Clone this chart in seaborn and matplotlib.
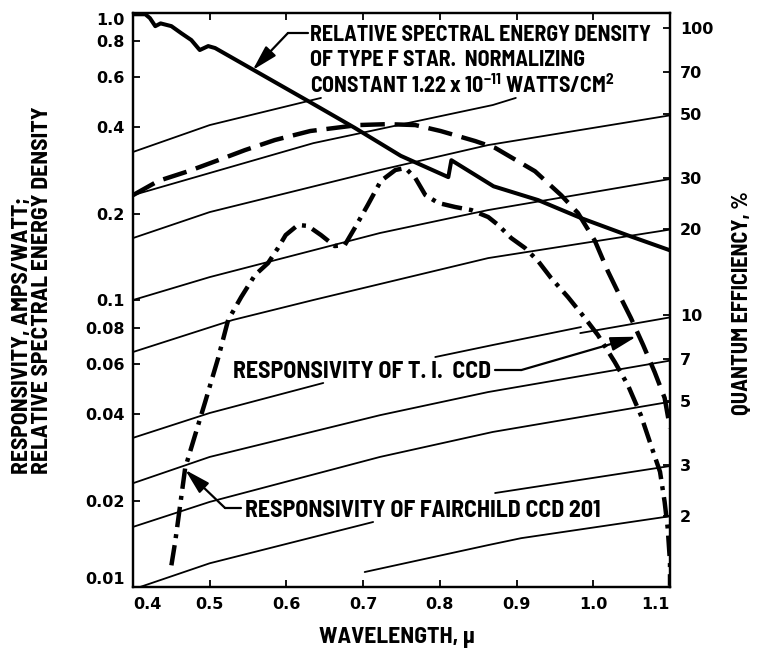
import matplotlib
matplotlib.use("Agg")
import matplotlib.pyplot as plt
import pandas as pd
import seaborn as sns

# ---------------- data ----------------
# Relative spectral energy density of type F star (solid, thick)
fstar_wl = [0.400, 0.416, 0.422, 0.429, 0.436, 0.450, 0.463, 0.476, 0.487, 0.498, 0.507,
            0.628, 0.689, 0.749, 0.811, 0.815, 0.870, 0.928, 0.984, 1.045, 1.100]
fstar_r = [0.99, 0.99, 0.96, 0.90, 0.92, 0.90, 0.85, 0.805, 0.743, 0.767, 0.755,
           0.494, 0.398, 0.318, 0.268, 0.307, 0.249, 0.223, 0.193, 0.168, 0.149]

# Responsivity of T.I. CCD (long dashes)
ti_wl = [0.400, 0.433, 0.472, 0.511, 0.546, 0.585, 0.631, 0.693, 0.732, 0.768, 0.801, 0.846,
         0.872, 0.924, 0.958, 0.980, 1.002, 1.019, 1.036, 1.049, 1.065, 1.080, 1.093, 1.100]
ti_r = [0.232, 0.260, 0.281, 0.307, 0.333, 0.361, 0.388, 0.407, 0.410, 0.407, 0.388, 0.358,
        0.339, 0.281, 0.232, 0.201, 0.161, 0.126, 0.1016, 0.0866, 0.0697, 0.0561, 0.0456, 0.0358]

# Responsivity of Fairchild CCD 201 (dash-dot)
fc_wl = [0.450, 0.455, 0.468, 0.481, 0.494, 0.511, 0.524, 0.541, 0.559, 0.576, 0.589, 0.599,
         0.615, 0.628, 0.645, 0.663, 0.676, 0.689, 0.706, 0.723, 0.742, 0.755, 0.768, 0.781,
         0.798, 0.820, 0.841, 0.863, 0.876, 0.893, 0.911, 0.928, 0.945, 0.967, 0.989, 1.006,
         1.028, 1.045, 1.062, 1.075, 1.087, 1.093, 1.097, 1.100, 1.100]
fc_r = [0.0119, 0.0144, 0.0260, 0.0339, 0.0441, 0.0628, 0.0852, 0.1024, 0.1222, 0.1345, 0.1518,
        0.1684, 0.1826, 0.1812, 0.1684, 0.1542, 0.1554, 0.1781, 0.2143, 0.2598, 0.2838, 0.2884,
        0.2661, 0.2322, 0.2178, 0.2109, 0.2058, 0.1946, 0.1826, 0.1644, 0.1518, 0.1367, 0.1193,
        0.1024, 0.0866, 0.0755, 0.0608, 0.0506, 0.0397, 0.0313, 0.0252, 0.0198, 0.01605, 0.0122,
        0.0101]

# Constant quantum-efficiency guide lines (thin), as drawn in the reference
qe100_wl = [0.400, 0.500, 0.645]
qe100_r = [0.328, 0.407, 0.506]
qe70_wl = [0.400, 0.635, 0.869, 0.899]
qe70_r = [0.232, 0.352, 0.478, 0.506]
qe50_wl = [0.400, 0.500, 0.722, 0.863, 1.100]
qe50_r = [0.1644, 0.2025, 0.2838, 0.3467, 0.4400]
qe30_wl = [0.400, 0.500, 0.722, 0.863, 1.100]
qe30_r = [0.100, 0.1202, 0.1712, 0.2058, 0.2640]
qe20_wl = [0.400, 0.530, 0.635, 0.863, 1.100]
qe20_r = [0.0659, 0.0852, 0.100, 0.140, 0.176]
qe10a_wl = [0.400, 0.500, 0.648]
qe10a_r = [0.0331, 0.0404, 0.0514]
qe10b_wl = [0.794, 0.869, 0.984]
qe10b_r = [0.0633, 0.0697, 0.0805]
qe10c_wl = [0.983, 1.100]
qe10c_r = [0.0767, 0.0870]
qe7_wl = [0.400, 0.500, 0.722, 0.863, 1.100]
qe7_r = [0.0230, 0.0284, 0.0397, 0.0478, 0.0615]
qe5_wl = [0.400, 0.500, 0.722, 0.869, 1.100]
qe5_r = [0.0162, 0.0198, 0.0284, 0.0347, 0.0442]
qe3a_wl = [0.409, 0.500, 0.713]
qe3a_r = [0.0100, 0.0121, 0.01685]
qe3b_wl = [0.872, 1.100]
qe3b_r = [0.02126, 0.0264]
qe2_wl = [0.702, 0.863, 0.906, 1.100]
qe2_r = [0.01128, 0.0140, 0.0148, 0.01765]

# axis ticks
x_ticks = [0.4, 0.5, 0.6, 0.7, 0.8, 0.9, 1.0, 1.1]
x_labels = ["0.4", "0.5", "0.6", "0.7", "0.8", "0.9", "1.0", "1.1"]
y_ticks = [1.0, 0.8, 0.6, 0.4, 0.2, 0.1, 0.08, 0.06, 0.04, 0.02, 0.01]
y_labels = ["1.0", "0.8", "0.6", "0.4", "0.2", "0.1", "0.08", "0.06", "0.04", "0.02", "0.01"]
qe_ticks = [100, 70, 50, 30, 20, 10, 7, 5, 3, 2]
qe_ref_wl = 1.1  # right edge wavelength at which QE ticks are marked

# ---------------- styling ----------------
sns.set_theme(style="white")
FONT = ['Barlow Semi Condensed', 'DejaVu Sans']
plt.rcParams['font.family'] = FONT
plt.rcParams['mathtext.fontset'] = 'custom'
plt.rcParams['mathtext.rm'] = 'Barlow Semi Condensed:bold'
plt.rcParams['mathtext.bf'] = 'Barlow Semi Condensed:bold'
plt.rcParams['mathtext.default'] = 'rm'

fig = plt.figure(figsize=(7.58, 6.54), dpi=100)
ax = fig.add_axes([0.1755, 0.1024, 0.7084, 0.8777])
ax.set_facecolor("white")

# guide lines
segs = [("qe100", qe100_wl, qe100_r), ("qe70", qe70_wl, qe70_r), ("qe50", qe50_wl, qe50_r),
        ("qe30", qe30_wl, qe30_r), ("qe20", qe20_wl, qe20_r), ("qe10a", qe10a_wl, qe10a_r),
        ("qe10b", qe10b_wl, qe10b_r), ("qe10c", qe10c_wl, qe10c_r), ("qe7", qe7_wl, qe7_r),
        ("qe5", qe5_wl, qe5_r), ("qe3a", qe3a_wl, qe3a_r), ("qe3b", qe3b_wl, qe3b_r),
        ("qe2", qe2_wl, qe2_r)]
grid = pd.concat([pd.DataFrame({"wl": w, "r": r, "seg": n}) for n, w, r in segs],
                 ignore_index=True)
sns.lineplot(data=grid, x="wl", y="r", units="seg", estimator=None, sort=False,
             color="black", lw=1.3, ax=ax, legend=False)

fstar = pd.DataFrame({"wl": fstar_wl, "r": fstar_r})
sns.lineplot(data=fstar, x="wl", y="r", estimator=None, sort=False,
             color="black", lw=2.9, ax=ax, legend=False)

ti = pd.DataFrame({"wl": ti_wl, "r": ti_r})
sns.lineplot(data=ti, x="wl", y="r", estimator=None, sort=False,
             color="black", lw=3.2, linestyle=(0, (5.5, 2.2)), ax=ax, legend=False)

fc = pd.DataFrame({"wl": fc_wl, "r": fc_r})
sns.lineplot(data=fc, x="wl", y="r", estimator=None, sort=False,
             color="black", lw=3.2, linestyle=(0, (4.6, 1.6, 0.9, 1.6)), ax=ax, legend=False)

ax.set_yscale("log")
ax.set_xlim(0.4, 1.1)
ax.set_ylim(0.01, 1.0)
ax.set_xlabel("")
ax.set_ylabel("")

tick_font = dict(family=['DejaVu Sans'], weight='bold', size=11.5)
ax.set_xticks(x_ticks)
ax.set_xticklabels(x_labels, **tick_font)
ax.set_yticks(y_ticks)
ax.set_yticklabels(y_labels, **tick_font)
ax.minorticks_off()
ax.xaxis.get_ticklabels()[0].set_horizontalalignment("left")
ax.xaxis.get_ticklabels()[-1].set_horizontalalignment("right")
ax.yaxis.get_ticklabels()[0].set_verticalalignment("top")
ax.yaxis.get_ticklabels()[-1].set_verticalalignment("bottom")
ax.tick_params(axis="both", which="both", direction="in", length=5, width=1.3,
               top=True, bottom=True, left=True, right=False, colors="black")
ax.tick_params(axis="x", pad=7)
ax.tick_params(axis="y", pad=6)

ax2 = ax.twinx()
ax2.set_yscale("log")
ax2.set_ylim(0.01, 1.0)
ax2.set_yticks([q / 100 * qe_ref_wl / 1.24 for q in qe_ticks])
ax2.set_yticklabels([str(q) for q in qe_ticks], **tick_font)
ax2.minorticks_off()
ax2.tick_params(axis="y", which="both", direction="in", length=5, width=1.3, pad=7,
                colors="black")

for a in (ax, ax2):
    for s in a.spines.values():
        s.set_color("black")
        s.set_linewidth(1.6)
        s.set_visible(True)

# ---------------- annotations ----------------
txt1 = dict(fontsize=15.8, fontweight="bold", color="black", family=FONT)
txt2 = dict(fontsize=17.2, fontweight="bold", color="black", family=FONT)
ax.text(0.631, 0.799, "RELATIVE SPECTRAL ENERGY DENSITY", ha="left", va="baseline", **txt1)
ax.text(0.631, 0.654, "OF TYPE F STAR.  NORMALIZING", ha="left", va="baseline", **txt1)
ax.text(0.631, 0.526, r"CONSTANT 1.22 x 10$^{-11}$ WATTS/CM$^{2}$", ha="left",
        va="baseline", **txt1)
ax.text(0.530, 0.0535, "RESPONSIVITY OF T. I.  CCD", ha="left", va="baseline", **txt2)
ax.text(0.546, 0.01754, "RESPONSIVITY OF FAIRCHILD CCD 201", ha="left", va="baseline", **txt2)

arrow = dict(arrowstyle="-|>,head_length=1.1,head_width=0.3", color="black", lw=1.6,
             mutation_scale=14, shrinkA=0, shrinkB=0)
# F star leader
ax.plot([0.628, 0.602], [0.852, 0.852], color="black", lw=1.6)
ax.annotate("", xy=(0.556, 0.633), xytext=(0.602, 0.852), arrowprops=arrow)
# T.I. leader
ax.plot([0.872, 0.906], [0.057, 0.057], color="black", lw=1.6)
ax.annotate("", xy=(1.056, 0.0745), xytext=(0.906, 0.057), arrowprops=arrow)
# Fairchild leader
ax.plot([0.541, 0.520], [0.01885, 0.01885], color="black", lw=1.6)
ax.annotate("", xy=(0.468, 0.0256), xytext=(0.520, 0.01885), arrowprops=arrow)

lab = dict(fontsize=17, fontweight="bold", color="black", family=FONT)
fig.text(32 / 758, 1 - 474 / 654, "RESPONSIVITY, AMPS/WATT;\nRELATIVE SPECTRAL ENERGY DENSITY",
         rotation=90, ha="center", va="bottom", multialignment="left", linespacing=1.05, **lab)
fig.text(742 / 758, 1 - 303 / 654, "QUANTUM EFFICIENCY, %", rotation=90, ha="center",
         va="center", fontsize=16, fontweight="bold", color="black", family=FONT)
fig.text(397 / 758, 1 - 637 / 654, "WAVELENGTH, \u03bc", ha="center", va="center", **lab)

fig.savefig("out.png", dpi=100, facecolor="white")
